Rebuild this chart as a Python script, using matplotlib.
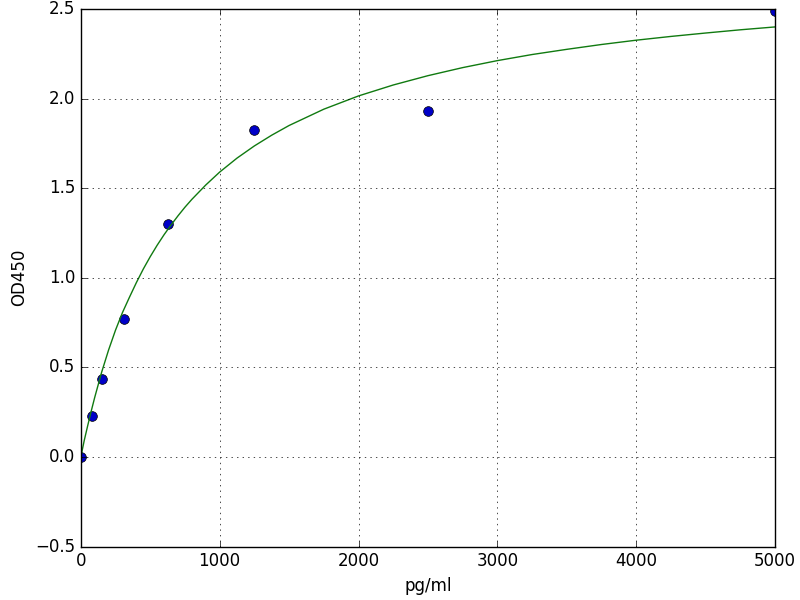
import matplotlib
matplotlib.use("Agg")
from matplotlib import pyplot as plt

# standard points (concentration, OD)
conc = [0, 78, 156, 312, 625, 1250, 2500, 5000]
od   = [0.0, 0.23, 0.435, 0.77, 1.30, 1.825, 1.93, 2.49]

# fitted curve
curve_x = [0, 25, 50, 75, 100, 150, 200, 250, 300, 350, 400, 450, 500, 550,
           600, 650, 700, 750, 800, 900, 1000, 1125, 1250, 1375, 1500, 1750,
           2000, 2250, 2500, 2750, 3000, 3250, 3500, 3750, 4000, 4250, 4500,
           4750, 5000]
curve_y = [0.0, 0.093, 0.176, 0.256, 0.332, 0.473, 0.597, 0.708, 0.806,
           0.891, 0.973, 1.049, 1.118, 1.182, 1.241, 1.295, 1.346, 1.394,
           1.438, 1.518, 1.590, 1.668, 1.736, 1.796, 1.850, 1.941, 2.015,
           2.076, 2.128, 2.173, 2.212, 2.246, 2.275, 2.302, 2.326, 2.347,
           2.366, 2.384, 2.400]

plt.style.use("classic")
fig = plt.figure(figsize=(8, 6), dpi=100, facecolor="white")
ax = fig.add_axes([0.101, 0.089, 0.868, 0.896])

ax.plot(conc, od, "o", color="#0000c8", markersize=7, clip_on=True)
ax.plot(curve_x, curve_y, "-", color="#107a10", linewidth=1)

ax.set_xlim(0, 5000)
ax.set_ylim(-0.5, 2.5)
ax.set_xticks([0, 1000, 2000, 3000, 4000, 5000])
ax.set_yticks([-0.5, 0.0, 0.5, 1.0, 1.5, 2.0, 2.5])
ax.grid(True)
ax.set_xlabel("pg/ml")
ax.set_ylabel("OD450")

fig.savefig("out.png", dpi=100, facecolor="white")
